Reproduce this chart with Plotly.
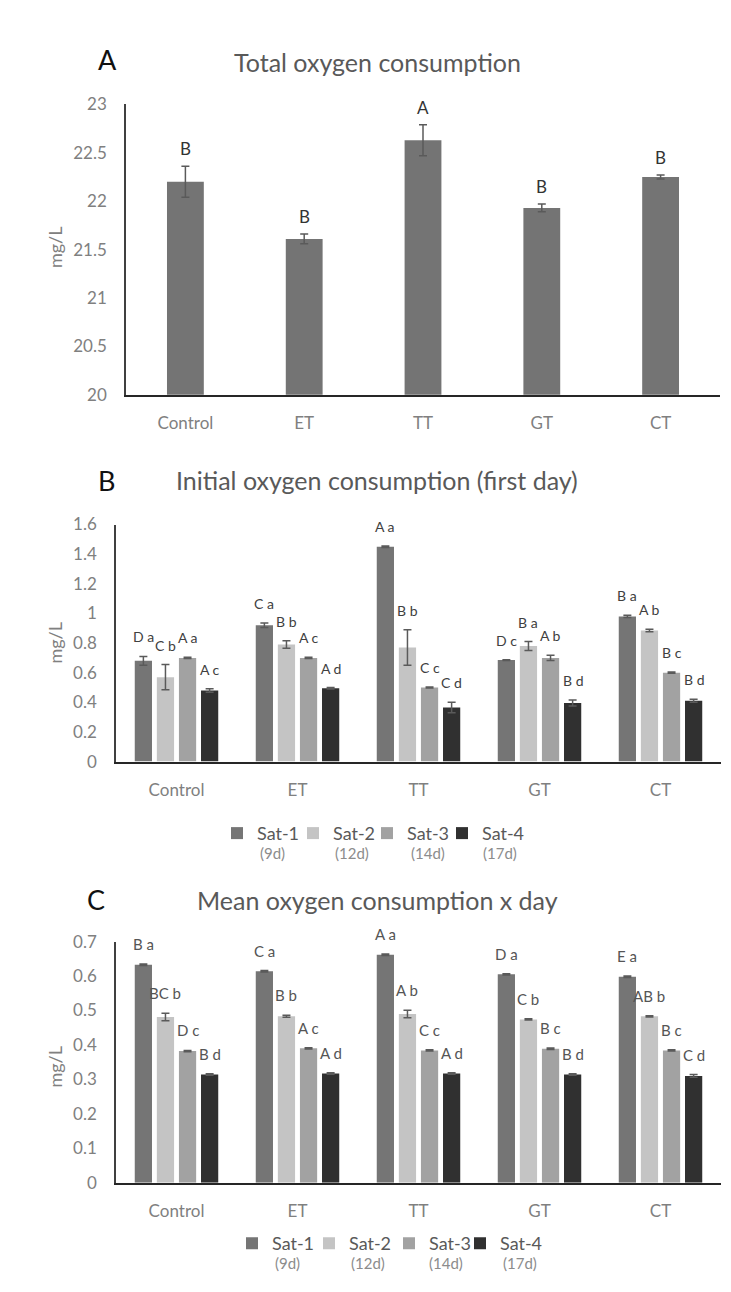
import plotly.graph_objects as go

# ---------------- data ----------------
categories = ["Control", "ET", "TT", "GT", "CT"]

total_mean = [22.20, 21.61, 22.63, 21.93, 22.25]
total_err = [0.16, 0.05, 0.16, 0.04, 0.02]
total_letters = ["B", "B", "A", "B", "B"]

series_names = ["Sat-1", "Sat-2", "Sat-3", "Sat-4"]
series_days = ["(9d)", "(12d)", "(14d)", "(17d)"]

init_sat1 = [0.68, 0.92, 1.45, 0.685, 0.98]
init_sat2 = [0.57, 0.79, 0.77, 0.78, 0.885]
init_sat3 = [0.70, 0.70, 0.50, 0.70, 0.60]
init_sat4 = [0.48, 0.495, 0.365, 0.395, 0.41]
init_err1 = [0.03, 0.015, 0.005, 0.003, 0.008]
init_err2 = [0.085, 0.025, 0.12, 0.03, 0.008]
init_err3 = [0.005, 0.005, 0.004, 0.018, 0.004]
init_err4 = [0.012, 0.005, 0.035, 0.02, 0.01]
init_let1 = ["D a", "C a", "A a", "D c", "B a"]
init_let2 = ["C b", "B b", "B b", "B a", "A b"]
init_let3 = ["A a", "A c", "C c", "A b", "B c"]
init_let4 = ["A c", "A d", "C d", "B d", "B d"]

mean_sat1 = [0.633, 0.614, 0.662, 0.605, 0.598]
mean_sat2 = [0.481, 0.483, 0.490, 0.474, 0.483]
mean_sat3 = [0.382, 0.390, 0.384, 0.389, 0.384]
mean_sat4 = [0.314, 0.317, 0.317, 0.314, 0.310]
mean_err1 = [0.002, 0.002, 0.002, 0.002, 0.002]
mean_err2 = [0.011, 0.003, 0.011, 0.002, 0.002]
mean_err3 = [0.002, 0.002, 0.002, 0.002, 0.002]
mean_err4 = [0.002, 0.002, 0.002, 0.002, 0.004]
mean_let1 = ["B a", "C a", "A a", "D a", "E a"]
mean_let2 = ["BC b", "B b", "A b", "C b", "AB b"]
mean_let3 = ["D c", "A c", "C c", "B c", "B c"]
mean_let4 = ["B d", "A d", "A d", "B d", "C d"]

# ---------------- styling ----------------
W, H = 731, 1292
FONT = "Lato"
sat_colors = ["#757575", "#c4c4c4", "#a2a2a2", "#303030"]
bar_a_color = "#747474"
tick_color = "#808080"
title_color = "#595959"
err_color = "#5a5a5a"

BARGAP = 0.27
BARGROUPGAP = 0.22

def px_x(p):
    return p / W

def px_y(p):
    return 1 - p / H

# pixel geometry of the three plot areas
A_x = (126, 720); A_y = (95, 390)
B_x = (116, 721); B_y = (522, 763)
C_x = (116, 721); C_y = (946, 1191)

# legend layout (pixels): text start of each legend entry, row centre, sub-label centres
B_leg_text = [255, 331, 405, 480]; B_leg_y = 836
B_sub_x = [272, 352, 428, 500]; B_sub_y = 856
C_leg_text = [270, 347, 427, 498]; C_leg_y = 1253
C_sub_x = [287, 368, 446, 520]; C_sub_y = 1273

fig = go.Figure()

# Panel A
fig.add_trace(go.Bar(
    x=categories, y=total_mean, base=0, width=0.31,
    marker=dict(color=bar_a_color, line=dict(width=0)),
    error_y=dict(type="data", array=total_err, color=err_color, thickness=1.5, width=4),
    xaxis="x", yaxis="y", showlegend=False,
))

init_vals = [init_sat1, init_sat2, init_sat3, init_sat4]
init_errs = [init_err1, init_err2, init_err3, init_err4]
init_lets = [init_let1, init_let2, init_let3, init_let4]
mean_vals = [mean_sat1, mean_sat2, mean_sat3, mean_sat4]
mean_errs = [mean_err1, mean_err2, mean_err3, mean_err4]
mean_lets = [mean_let1, mean_let2, mean_let3, mean_let4]

def legend_name(k):
    return "legend" if k == 1 else "legend%d" % k

for j in range(4):
    fig.add_trace(go.Bar(
        x=categories, y=init_vals[j], name=series_names[j],
        marker=dict(color=sat_colors[j], line=dict(width=0)),
        error_y=dict(type="data", array=init_errs[j], color=err_color, thickness=1.5, width=4),
        xaxis="x2", yaxis="y2", legend=legend_name(j + 1),
    ))
for j in range(4):
    fig.add_trace(go.Bar(
        x=categories, y=mean_vals[j], name=series_names[j],
        marker=dict(color=sat_colors[j], line=dict(width=0)),
        error_y=dict(type="data", array=mean_errs[j], color=err_color, thickness=1.5, width=4),
        xaxis="x3", yaxis="y3", legend=legend_name(j + 5),
    ))

annotations = []

# letters above bars, panel A
for i, c in enumerate(categories):
    annotations.append(dict(
        x=c, y=total_mean[i] + total_err[i], xref="x", yref="y",
        text=total_letters[i], showarrow=False, yanchor="bottom", yshift=5,
        font=dict(family=FONT, size=17, color="#333333"),
    ))

def group_letters(vals, errs, lets, xr, yr, xpx, size, color, yshift):
    cat_w = (xpx[1] - xpx[0]) / len(categories)
    slot = cat_w * (1 - BARGAP) / 4
    for j in range(4):
        for i, c in enumerate(categories):
            annotations.append(dict(
                x=c, y=vals[j][i] + errs[j][i], xref=xr, yref=yr,
                text=lets[j][i], showarrow=False, yanchor="bottom",
                xshift=(j - 1.5) * slot, yshift=yshift,
                font=dict(family=FONT, size=size, color=color),
            ))

group_letters(init_vals, init_errs, init_lets, "x2", "y2", B_x, 14, "#404040", 9)
group_letters(mean_vals, mean_errs, mean_lets, "x3", "y3", C_x, 15, "#555555", 9)

# panel letters and titles
for letter, lx, ly, title, ty in [
    ("A", 107, 49, "Total oxygen consumption", 52),
    ("B", 106, 477, "Initial oxygen consumption (first day)", 477),
    ("C", 96, 903, "Mean oxygen consumption x day", 904),
]:
    annotations.append(dict(x=px_x(lx), y=px_y(ly), xref="paper", yref="paper",
                            text=letter, showarrow=False, xanchor="center", yanchor="middle",
                            font=dict(family=FONT, size=27, color="#111111")))
    annotations.append(dict(x=px_x(377), y=px_y(ty), xref="paper", yref="paper",
                            text=title, showarrow=False, xanchor="center", yanchor="middle",
                            font=dict(family=FONT, size=25, color=title_color)))

# y axis titles
for yy in [240, 642, 1073]:
    annotations.append(dict(x=px_x(55), y=px_y(yy), xref="paper", yref="paper",
                            text="mg/L", showarrow=False, textangle=-90,
                            xanchor="center", yanchor="middle",
                            font=dict(family=FONT, size=18, color=tick_color)))

# legend sub-labels (days)
for xs, ys in [(B_sub_x, B_sub_y), (C_sub_x, C_sub_y)]:
    for j in range(4):
        annotations.append(dict(x=px_x(xs[j]), y=px_y(ys), xref="paper", yref="paper",
                                text=series_days[j], showarrow=False,
                                xanchor="center", yanchor="middle",
                                font=dict(family=FONT, size=15, color="#8c8c8c")))

def xaxis(dom):
    return dict(domain=[px_x(dom[0]), px_x(dom[1])], type="category",
                showline=True, linecolor="#262626", linewidth=2,
                showgrid=False, zeroline=False, ticks="", ticklabelstandoff=12,
                tickfont=dict(family=FONT, size=17, color=tick_color), fixedrange=True)

def yaxis(dom, rng, dtick, anchor):
    return dict(domain=[px_y(dom[1]), px_y(dom[0])], range=rng, dtick=dtick,
                showline=True, linecolor="#404040", linewidth=1.5,
                showgrid=False, zeroline=False, ticks="", ticklabelstandoff=14,
                tickfont=dict(family=FONT, size=17, color=tick_color),
                anchor=anchor, fixedrange=True)

def legend_at(text_x, row_y):
    return dict(
        orientation="h", xanchor="left", yanchor="middle", valign="middle",
        x=px_x(text_x - 38), y=px_y(row_y),
        bgcolor="rgba(0,0,0,0)", borderwidth=0, itemclick=False, itemdoubleclick=False,
        font=dict(family=FONT, size=18, color=title_color),
    )

legends = {}
for j in range(4):
    legends[legend_name(j + 1)] = legend_at(B_leg_text[j], B_leg_y)
    legends[legend_name(j + 5)] = legend_at(C_leg_text[j], C_leg_y)

fig.update_layout(
    width=W, height=H,
    margin=dict(l=0, r=0, t=0, b=0),
    paper_bgcolor="white", plot_bgcolor="white",
    barmode="group", bargap=BARGAP, bargroupgap=BARGROUPGAP,
    xaxis=dict(xaxis(A_x), anchor="y"),
    yaxis=yaxis(A_y, [20, 23], 0.5, "x"),
    xaxis2=dict(xaxis(B_x), anchor="y2"),
    yaxis2=yaxis(B_y, [0, 1.6], 0.2, "x2"),
    xaxis3=dict(xaxis(C_x), anchor="y3"),
    yaxis3=yaxis(C_y, [0, 0.7], 0.1, "x3"),
    annotations=annotations,
    showlegend=True,
    **legends,
)

fig.write_html("out.html")
